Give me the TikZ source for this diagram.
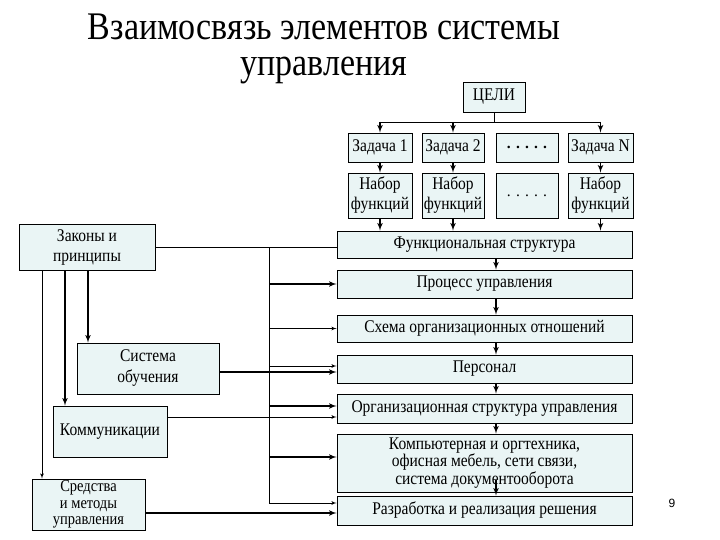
\documentclass[tikz,border=0pt]{standalone}
\usepackage{fontspec}
\usepackage{graphicx}
\setmainfont{Liberation Serif}
\newfontfamily\numfont{Liberation Sans}
\usetikzlibrary{arrows,positioning}
\definecolor{boxfill}{RGB}{234,245,245}
\newcommand{\tall}[1]{\scalebox{1}[1.15]{#1}}
\tikzset{
    %Define standard arrow tip
    >=latex',
    %Define style for boxes
    element/.style={
           rectangle,
           draw=black, line width=.8pt,
           fill=boxfill,
           inner sep=0pt,
           font=\fontsize{15.5}{20}\selectfont,
           align=center},
    task/.style={element, minimum height=29},
    funcset/.style={element, minimum height=45},
    block/.style={element, minimum width=295},
    heading/.style={anchor=north, inner sep=0pt, align=center, font=\fontsize{34}{36}\selectfont},
    % Define arrow styles
    pil/.style={->, line width=.8pt},
    tpil/.style={->, line width=1.6pt},
    lnk/.style={line width=.8pt}
}
\begin{document}
\begin{tikzpicture}[x=1pt,y=-1pt]
\useasboundingbox (0,0) rectangle (720,540);
\fill[white] (0,0) rectangle (720,540);
% title
\node[heading] (title) at (324,14) {\tall{Взаимосвязь элементов системы}\\\tall{управления}};

% goals, tasks and function sets
\node[element, minimum width=62, minimum height=30] (goal) at (494,97) {\tall{ЦЕЛИ}};
\node[task, minimum width=64] (task1) at (380,147.5) {\tall{Задача 1}};
\node[task, minimum width=62] (task2) at (453,147.5) {\tall{Задача 2}};
\node[task, minimum width=62] (taskd) at (527,147.5) {\textbf{.\,\,.\,\,.\,\,.\,\,.}};
\node[task, minimum width=65] (taskn) at (600.5,147.5) {\tall{Задача N}};
\node[funcset, minimum width=64] (set1) at (380,195.5) {\tall{Набор}\\\tall{функций}};
\node[funcset, minimum width=62] (set2) at (453,195.5) {\tall{Набор}\\\tall{функций}};
\node[funcset, minimum width=62] (setd) at (527,195.5) {.\,\,.\,\,.\,\,.\,\,.};
\node[funcset, minimum width=65] (setn) at (600.5,195.5) {\tall{Набор}\\\tall{функций}};

% right column
\node[block, minimum height=27] (func) at (484.5,244.5) {\tall{Функциональная структура}};
\node[block, minimum height=28] (proc) at (484.5,284) {\tall{Процесс управления}};
\node[block, minimum height=27] (scheme) at (484.5,328.5) {\tall{Схема организационных отношений}};
\node[block, minimum height=28] (staff) at (484.5,369) {\tall{Персонал}};
\node[block, minimum height=29] (orgstr) at (484.5,408.5) {\tall{Организационная структура управления}};
\node[block, minimum height=58, font=\fontsize{15.5}{16.5}\selectfont] (tech) at (484.5,463)
  {\tall{Компьютерная и оргтехника,}\\\tall{офисная мебель, сети связи,}\\\tall{система документооборота}};
\node[block, minimum height=29] (decision) at (484.5,510.5) {\tall{Разработка и реализация решения}};

% left column
\node[element, minimum width=136, minimum height=46] (laws) at (87,247) {\tall{Законы и}\\\tall{принципы}};
\node[element, minimum width=142, minimum height=51, font=\fontsize{15.5}{21}\selectfont] (train) at (148,368.5) {\tall{Система}\\\tall{обучения}};
\node[element, minimum width=114, minimum height=51] (comm) at (110,431.5) {\tall{Коммуникации}};
\node[element, minimum width=113, minimum height=51, font=\fontsize{14.5}{16.5}\selectfont] (tools) at (88.5,504.5) {\tall{Средства}\\\tall{и методы}\\\tall{управления}};

\node[font=\numfont\fontsize{12}{14}\selectfont] (page) at (672,503) {9};

% helper coordinates
\coordinate (bar) at (0,122);
\coordinate (mid) at (496,0);
\coordinate (bus) at (269,0);
\coordinate (techlow) at (496,480);
\coordinate (staffhi) at ([yshift=3pt]staff.west);
\coordinate (stafflo) at ([yshift=-3pt]staff.west);
\coordinate (orghi) at ([yshift=2.5pt]orgstr.west);
\coordinate (orglo) at ([yshift=-8.5pt]orgstr.west);
\coordinate (techhi) at ([yshift=6pt]tech.west);
\coordinate (dechi) at ([yshift=7.5pt]decision.west);
\coordinate (declo) at ([yshift=-2.5pt]decision.west);
\coordinate (lawsa) at ([xshift=-45pt]laws.south);
\coordinate (lawsb) at ([xshift=-22pt]laws.south);
\coordinate (lawsc) at ([xshift=1pt]laws.south);

% goals to tasks
\draw[lnk] (goal.south) -- (goal.south |- bar);
\draw[lnk] (task1.north |- bar) -- (taskn.north |- bar);
\foreach \t in {task1,task2,taskn}
  \draw[tpil] (\t.north |- bar) -- (\t.north);
\foreach \t/\s in {task1/set1,task2/set2,taskn/setn}
  \draw[tpil] (\t.south) -- (\s.north);
\foreach \s in {set1,set2,setn}
  \draw[tpil] (\s.south) -- (\s.south |- func.north);

% chain of the right column
\foreach \a/\b in {func/proc,proc/scheme,scheme/staff,staff/orgstr,orgstr/tech}
  \draw[tpil] (\a.south -| mid) -- (\b.north -| mid);
\draw[tpil] (techlow) -- (decision.north -| mid);

% laws bus
\draw[lnk] (laws.east) -- (laws.east -| func.west);
\draw[pil] (laws.east -| bus) -- (bus |- dechi) -- (dechi);
\draw[tpil] (bus |- proc.west) -- (proc.west);
\draw[pil] (bus |- scheme.west) -- (scheme.west);
\draw[pil] (bus |- staffhi) -- (staffhi);
\draw[tpil] (bus |- orghi) -- (orghi);
\draw[tpil] (bus |- techhi) -- (techhi);

% left boxes to the right column
\draw[tpil] (train.east |- stafflo) -- (stafflo);
\draw[pil] (comm.east |- orglo) -- (orglo);
\draw[tpil] (tools.east |- declo) -- (declo);

% laws down
\draw[pil] (lawsa) -- (lawsa |- tools.north);
\draw[tpil] (lawsb) -- (lawsb |- comm.north);
\draw[tpil] (lawsc) -- (lawsc |- train.north);
\end{tikzpicture}
\end{document}
